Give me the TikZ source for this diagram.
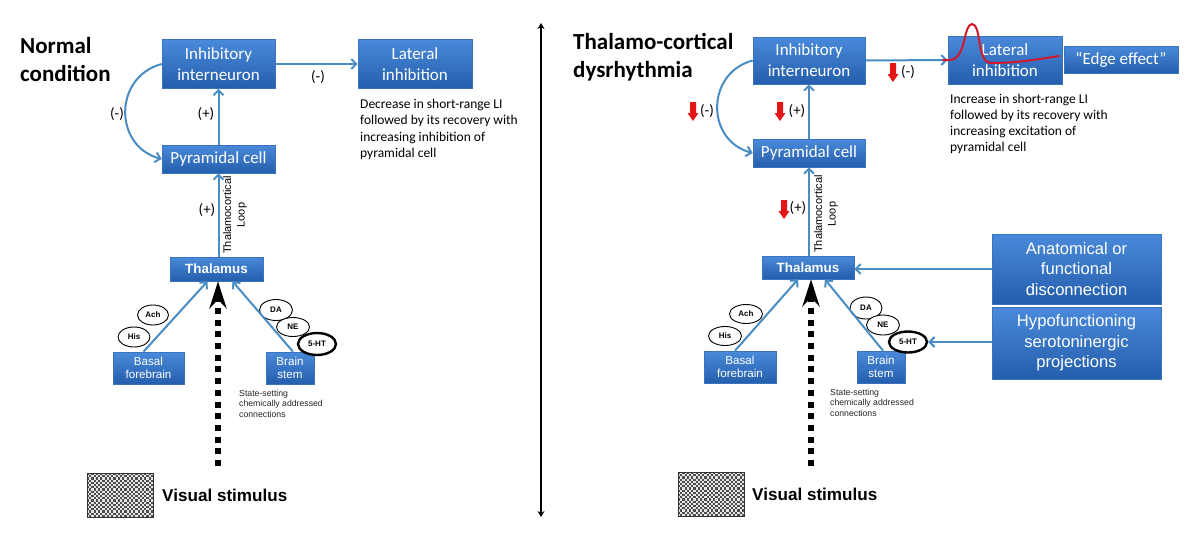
\documentclass[tikz,border=0pt]{standalone}
\usepackage{fontspec}
\setmainfont{Carlito}
\newfontfamily\arial{Liberation Sans}
\usetikzlibrary{arrows.meta,shapes.geometric}
\definecolor{boxtop}{RGB}{74,138,218}
\definecolor{boxbot}{RGB}{36,94,172}
\definecolor{boxedge}{RGB}{60,115,190}
\definecolor{linkblue}{RGB}{74,140,196}
\definecolor{alarm}{RGB}{228,22,22}
\definecolor{peak}{RGB}{212,24,44}
\tikzset{
  box/.style={rectangle, inner sep=0pt, top color=boxtop, bottom color=boxbot, draw=boxedge, line width=0.6pt, text=white, align=center},
  cal/.style={font=\fontsize{17}{21}\selectfont},
  arl/.style={font=\arial\fontsize{11.6}{13.5}\selectfont},
  arbig/.style={font=\arial\fontsize{16.6}{20.5}\selectfont},
  thal/.style={font=\arial\bfseries\fontsize{13.4}{16}\selectfont},
  conn/.style={draw=linkblue, line width=2pt, -{Straight Barb[length=5pt,width=10pt]}},
  chem/.style={ellipse, draw, line width=0.9pt, fill=white, inner sep=0pt, font=\arial\bfseries\fontsize{8}{10}\selectfont},
  signlbl/.style={font=\fontsize{15}{18}\selectfont, inner sep=0pt},
  titl/.style={font=\bfseries\fontsize{23}{28}\selectfont, align=left, anchor=west, inner sep=0pt},
  desc/.style={font=\fontsize{13.5}{16.3}\selectfont, align=left, anchor=north west, inner sep=0pt},
  small/.style={font=\arial\fontsize{8.7}{10.5}\selectfont, align=left, anchor=north west, inner sep=0pt, text=black!85},
  loopl/.style={font=\arial\fontsize{11}{13.5}\selectfont, align=center, rotate=90, inner sep=0pt},
  vis/.style={font=\arial\bfseries\fontsize{17.1}{21}\selectfont, anchor=west, inner sep=0pt},
  dotconn/.style={draw=black, line width=6pt, dash pattern=on 6pt off 5.7pt, -{Stealth[length=27pt,width=17pt]}},
  redarr/.pic={\fill[alarm] (-3,0) -- (3,0) -- (3,11) -- (5.5,11) -- (0,19) -- (-5.5,11) -- (-3,11) -- cycle;},
  checker/.pic={
    \fill[gray!20] (0,0) rectangle (66,44);
    \foreach \i in {0,...,29}{\foreach \j in {0,...,19}{
      \pgfmathtruncatemacro\pp{mod(\i+\j,2)}
      \ifnum\pp=0 \fill[black!70] (2.2*\i,2.2*\j) rectangle ++(2.2,2.2);\fi}}
    \draw[black!80, line width=0.8pt] (0,0) rectangle (66,44);
  }
}
\begin{document}
\begin{tikzpicture}[x=1pt,y=-1pt]
\useasboundingbox (0,0) rectangle (1200,547);
\fill[white] (0,0) rectangle (1200,547);

% divider
\coordinate (divtop) at (541,23);
\coordinate (divbot) at (541,517);
\draw[line width=2.2pt, {Stealth[length=6pt,width=7pt]}-{Stealth[length=6pt,width=7pt]}] (divtop) -- (divbot);

%%%%%%%%%%%%%%%% LEFT PANEL
\node[titl] (titleL) at (20,60) {Normal\\condition};
\node[box, cal, minimum width=113pt, minimum height=49pt] (inhL) at (218.5,64) {Inhibitory\\interneuron};
\node[box, cal, minimum width=114pt, minimum height=49pt] (latL) at (415,64) {Lateral\\inhibition};
\node[box, cal, minimum width=113pt, minimum height=28pt] (pyrL) at (218.5,159) {Pyramidal cell};
\node[box, thal, minimum width=93pt, minimum height=24pt] (thalL) at (216.5,269) {Thalamus};
\node[box, arl, minimum width=71pt, minimum height=32pt] (bfL) at (148.5,368) {Basal\\forebrain};
\node[box, arl, minimum width=48pt, minimum height=32pt] (bsL) at (290,368) {Brain\\stem};

\node[chem, minimum width=31pt, minimum height=20pt] (achL) at (153,315) {Ach};
\node[chem, minimum width=32pt, minimum height=20pt] (hisL) at (134,337) {His};
\node[chem, minimum width=33pt, minimum height=21pt] (daL) at (276,310) {DA};
\node[chem, minimum width=33pt, minimum height=19pt] (neL) at (293,327) {NE};
\node[chem, line width=2.4pt, minimum width=38pt, minimum height=22pt] (htL) at (317,344) {5-HT};

\draw[conn] (inhL.east) -- (latL.west);
\draw[conn] (pyrL.north) -- (inhL.south);
\draw[conn] (inhL.west) to[out=195, in=165, looseness=1.35] (pyrL.west);
\draw[conn] (pyrL.south |- thalL.north) -- (pyrL.south);
\draw[conn] ([xshift=-5pt]bfL.north) -- ([xshift=-9pt]thalL.south);
\draw[conn] ([xshift=3pt]bsL.north) -- ([xshift=16pt]thalL.south);

\node[signlbl] (mtopL) at (318,77) {(-)};
\node[signlbl] (mcurL) at (117,114) {(-)};
\node[signlbl] (pmidL) at (206,114) {(+)};
\node[signlbl] (plowL) at (207,210) {(+)};
\node[loopl] (loopL) at (235,215) {Thalamocortical\\Loop};

\node[desc] (descL) at (360,99) {Decrease in short-range LI\\followed by its recovery with\\increasing inhibition of\\pyramidal cell};

\coordinate (vsL) at (218,466);
\draw[dotconn] (vsL) -- (vsL |- thalL.south);
\node[small] (ssL) at (239,389.5) {State-setting\\chemically addressed\\connections};

\pic at (87,473) {checker};
\node[vis] (visL) at (162,495) {Visual stimulus};

%%%%%%%%%%%%%%%% RIGHT PANEL
\node[titl] (titleR) at (573,57) {Thalamo-cortical\\dysrhythmia};
\node[box, cal, minimum width=112pt, minimum height=47pt] (inhR) at (809,60.5) {Inhibitory\\interneuron};
\node[box, cal, minimum width=114pt, minimum height=48pt] (latR) at (1005,60) {Lateral\\inhibition};
\node[box, cal, minimum width=114pt, minimum height=27pt] (edge) at (1121,59.5) {“Edge effect”};
\node[box, cal, minimum width=112pt, minimum height=28pt] (pyrR) at (809,153) {Pyramidal cell};
\node[box, thal, minimum width=92pt, minimum height=23pt] (thalR) at (808,267.5) {Thalamus};
\node[box, arl, minimum width=72pt, minimum height=32pt] (bfR) at (740,367) {Basal\\forebrain};
\node[box, arl, minimum width=48pt, minimum height=32pt] (bsR) at (881,367) {Brain\\stem};
\node[box, arbig, minimum width=169pt, minimum height=70pt] (anat) at (1076.5,269) {Anatomical or\\functional\\disconnection};
\node[box, arbig, minimum width=169pt, minimum height=72pt] (hypo) at (1076.5,343) {Hypofunctioning\\serotoninergic\\projections};

\node[chem, minimum width=33pt, minimum height=19pt] (achR) at (746,314) {Ach};
\node[chem, minimum width=33pt, minimum height=19pt] (hisR) at (725,336) {His};
\node[chem, minimum width=32pt, minimum height=22pt] (daR) at (866,308) {DA};
\node[chem, minimum width=33pt, minimum height=20pt] (neR) at (883,325) {NE};
\node[chem, line width=2.4pt, minimum width=38pt, minimum height=21pt] (htR) at (908,342) {5-HT};

\draw[conn] (inhR.east) -- (latR.west);
\draw[conn] (pyrR.north) -- (inhR.south);
\draw[conn] (inhR.west) to[out=195, in=165, looseness=1.35] (pyrR.west);
\draw[conn] (pyrR.south |- thalR.north) -- (pyrR.south);
\draw[conn] ([xshift=-5pt]bfR.north) -- ([xshift=-10pt]thalR.south);
\draw[conn] ([xshift=2pt]bsR.north) -- ([xshift=17pt]thalR.south);
\draw[conn] (anat.west) -- (anat.west -| thalR.east);
\draw[conn] (hypo.west |- htR.east) -- (htR.east);

\node[signlbl] (mtopR) at (908,72) {(-)};
\node[signlbl] (mcurR) at (707,111) {(-)};
\node[signlbl] (pmidR) at (797,111) {(+)};
\node[signlbl] (plowR) at (798,208) {(+)};
\node[loopl] (loopR) at (826,214) {Thalamocortical\\Loop};
\pic at (893,63) {redarr};
\pic at (693,102) {redarr};
\pic at (780,102) {redarr};
\pic at (784,200) {redarr};

\draw[peak, line width=2pt, line cap=round] plot[smooth, tension=0.6] coordinates {(943,60) (955,58.5) (962,48) (967,30) (972,24) (977,30) (981,50) (986,61) (996,63) (1025,61) (1059,56)};

\node[desc] (descR) at (950,93.5) {Increase in short-range LI\\followed by its recovery with\\increasing excitation of\\pyramidal cell};

\coordinate (vsR) at (811,466);
\draw[dotconn] (vsR) -- (vsR |- thalR.south);
\node[small] (ssR) at (830,388.5) {State-setting\\chemically addressed\\connections};

\pic at (678,472) {checker};
\node[vis] (visR) at (752,494) {Visual stimulus};
\end{tikzpicture}
\end{document}
